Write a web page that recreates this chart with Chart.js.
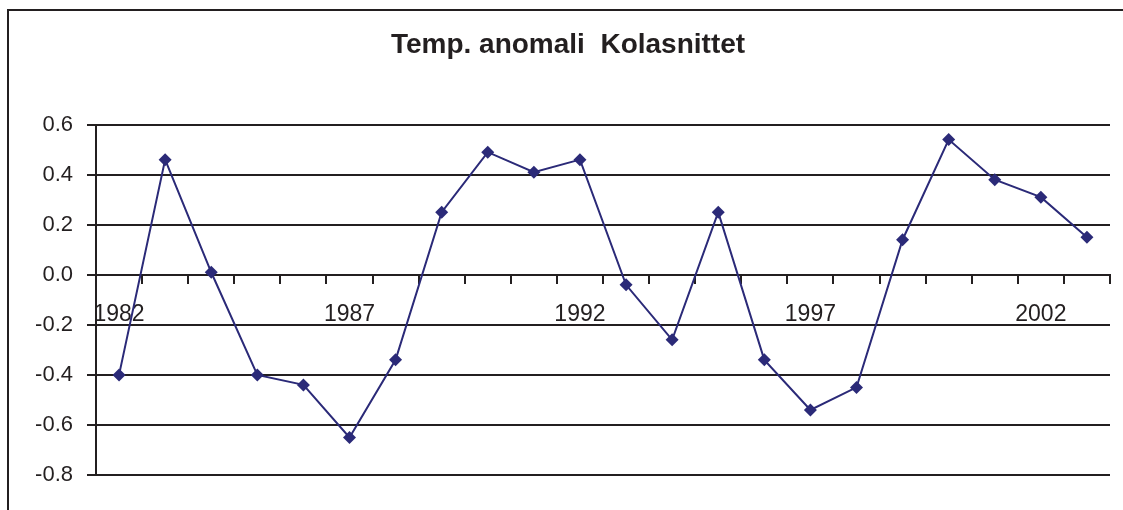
<!DOCTYPE html>
<html>
<head>
<meta charset="utf-8">
<script src="https://cdn.jsdelivr.net/npm/chart.js@4"></script>
<style>
  html, body { margin: 0; padding: 0; background: #fff; overflow: hidden; }
  #wrap { position: absolute; left: 0; top: 0; width: 1123px; height: 510px; }
  #frame {
    position: absolute; left: 7px; top: 9px; width: 1140px; height: 540px;
    border-left: 2px solid #231f20; border-top: 2px solid #231f20;
    pointer-events: none;
  }
</style>
</head>
<body>
<div id="wrap"><canvas id="graficoLinha"></canvas></div>
<div id="frame"></div>
<script>
const anos = ["1982", "1983", "1984", "1985", "1986", "1987", "1988", "1989", "1990", "1991", "1992",
  "1993", "1994", "1995", "1996", "1997", "1998", "1999", "2000", "2001", "2002", "2003"];
const anomali = [-0.40, 0.46, 0.01, -0.40, -0.44, -0.65, -0.34, 0.25, 0.49, 0.41, 0.46,
  -0.04, -0.26, 0.25, -0.34, -0.54, -0.45, 0.14, 0.54, 0.38, 0.31, 0.15];
const tittel = "Temp. anomali  Kolasnittet";

const corLinha = "#2b2a78";
const corEixo = "#231f20";
const fonte = "'Liberation Sans', Arial, sans-serif";

const ctx = document.getElementById("graficoLinha").getContext("2d");

new Chart(ctx, {
  type: "line",
  data: {
    labels: anos,
    datasets: [
      {
        data: anomali,
        borderColor: corLinha,
        backgroundColor: corLinha,
        borderWidth: 2,
        pointStyle: "rectRot",
        pointRadius: 6.5,
        pointBorderWidth: 0,
        tension: 0,
      },
    ],
  },
  options: {
    responsive: true,
    maintainAspectRatio: false,
    animation: false,
    layout: { padding: { left: 13, right: 0, top: 0, bottom: 35 } },
    plugins: {
      legend: { display: false },
      tooltip: { enabled: false },
      title: {
        display: true,
        text: tittel,
        color: corEixo,
        font: { family: fonte, size: 28, weight: "bold" },
        padding: { top: 28, bottom: 63 },
      },
    },
    scales: {
      x: {
        type: "category",
        position: { y: 0 },
        offset: true,
        grid: {
          offset: true,
          drawOnChartArea: false,
          drawTicks: true,
          tickLength: 8,
          color: corEixo,
          lineWidth: 2,
        },
        border: { display: true, color: corEixo, width: 2 },
        ticks: {
          autoSkip: false,
          maxRotation: 0,
          padding: 18,
          color: corEixo,
          font: { family: fonte, size: 23 },
          callback: (v, i) => (i % 5 === 0 ? anos[i] : ""),
        },
      },
      y: {
        min: -0.8,
        max: 0.6,
        afterFit: (s) => { s.width = 83; },
        grid: {
          color: corEixo,
          lineWidth: 2,
          tickLength: 9,
        },
        border: { display: true, color: corEixo, width: 2 },
        ticks: {
          stepSize: 0.2,
          padding: 14,
          color: corEixo,
          font: { family: fonte, size: 22 },
          callback: (v) => (Math.abs(v) < 1e-9 ? "0.0" : Number(v).toFixed(1)),
        },
      },
      // eixo vazio so para reservar a margem da direita
      espaco: {
        type: "linear",
        position: "right",
        display: true,
        afterFit: (s) => { s.width = 13; },
        grid: { display: false },
        border: { display: false },
        ticks: { display: false },
      },
    },
  },
});
</script>
</body>
</html>
